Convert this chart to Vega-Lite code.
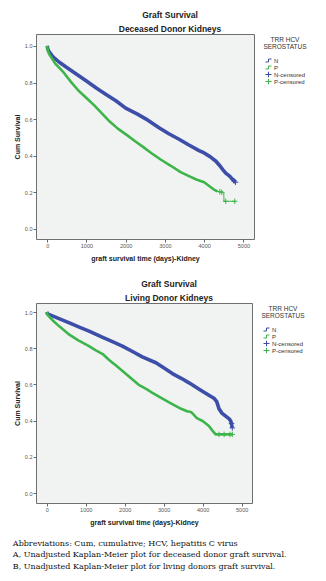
{
  "$schema": "https://vega.github.io/schema/vega-lite/v6.json",
  "padding": {"left": 12, "top": 10, "right": 0, "bottom": 0},
  "background": "white",
  "config": {
    "font": "Liberation Sans",
    "view": {"fill": "#f1f3f3", "stroke": "#6f6f6f", "strokeWidth": 1},
    "axis": {"grid": false, "domain": false, "tickColor": "#666", "tickSize": 3, "labelFontSize": 5.5, "labelColor": "#555", "titleFontSize": 7, "titleFontWeight": "bold", "titleColor": "#222", "labelPadding": 1, "labelOverlap": false, "labelBound": false},
    "concat": {"spacing": 17}
  },
  "datasets": {
    "dec": [
      {"g":"N","t":0,"v":1.0},{"g":"N","t":20,"v":0.98},{"g":"N","t":60,"v":0.965},{"g":"N","t":150,"v":0.94},{"g":"N","t":300,"v":0.912},{"g":"N","t":500,"v":0.882},{"g":"N","t":750,"v":0.845},{"g":"N","t":1000,"v":0.808},{"g":"N","t":1250,"v":0.77},{"g":"N","t":1500,"v":0.735},{"g":"N","t":1750,"v":0.7},{"g":"N","t":2000,"v":0.66},{"g":"N","t":2300,"v":0.627},{"g":"N","t":2520,"v":0.6},{"g":"N","t":2850,"v":0.553},{"g":"N","t":3100,"v":0.52},{"g":"N","t":3360,"v":0.49},{"g":"N","t":3600,"v":0.46},{"g":"N","t":3870,"v":0.428},{"g":"N","t":4000,"v":0.415},{"g":"N","t":4150,"v":0.395},{"g":"N","t":4300,"v":0.37},{"g":"N","t":4400,"v":0.345},{"g":"N","t":4470,"v":0.325},{"g":"N","t":4550,"v":0.305},{"g":"N","t":4640,"v":0.29},{"g":"N","t":4720,"v":0.272},{"g":"N","t":4800,"v":0.255},
      {"g":"P","t":0,"v":1.0},{"g":"P","t":15,"v":0.975},{"g":"P","t":50,"v":0.955},{"g":"P","t":200,"v":0.905},{"g":"P","t":400,"v":0.86},{"g":"P","t":600,"v":0.805},{"g":"P","t":800,"v":0.755},{"g":"P","t":1000,"v":0.715},{"g":"P","t":1200,"v":0.675},{"g":"P","t":1400,"v":0.63},{"g":"P","t":1600,"v":0.585},{"g":"P","t":1800,"v":0.548},{"g":"P","t":2050,"v":0.51},{"g":"P","t":2250,"v":0.478},{"g":"P","t":2450,"v":0.447},{"g":"P","t":2650,"v":0.415},{"g":"P","t":2900,"v":0.378},{"g":"P","t":3150,"v":0.345},{"g":"P","t":3400,"v":0.31},{"g":"P","t":3600,"v":0.29},{"g":"P","t":3800,"v":0.27},{"g":"P","t":4000,"v":0.255},{"g":"P","t":4170,"v":0.228},{"g":"P","t":4250,"v":0.215},{"g":"P","t":4340,"v":0.205},{"g":"P","t":4500,"v":0.2},{"g":"P","t":4505,"v":0.151},{"g":"P","t":4800,"v":0.151}
    ],
    "decC": [
      {"g":"N-censored","t":4760,"v":0.262},{"g":"N-censored","t":4800,"v":0.255},
      {"g":"P-censored","t":4400,"v":0.203},{"g":"P-censored","t":4450,"v":0.2},{"g":"P-censored","t":4550,"v":0.151},{"g":"P-censored","t":4780,"v":0.151}
    ],
    "liv": [
      {"g":"N","t":0,"v":1.0},{"g":"N","t":20,"v":0.99},{"g":"N","t":300,"v":0.965},{"g":"N","t":580,"v":0.94},{"g":"N","t":850,"v":0.915},{"g":"N","t":1085,"v":0.895},{"g":"N","t":1436,"v":0.86},{"g":"N","t":1700,"v":0.835},{"g":"N","t":1940,"v":0.812},{"g":"N","t":2200,"v":0.782},{"g":"N","t":2450,"v":0.752},{"g":"N","t":2800,"v":0.72},{"g":"N","t":3000,"v":0.692},{"g":"N","t":3223,"v":0.66},{"g":"N","t":3450,"v":0.634},{"g":"N","t":3650,"v":0.609},{"g":"N","t":3910,"v":0.573},{"g":"N","t":4160,"v":0.54},{"g":"N","t":4300,"v":0.522},{"g":"N","t":4360,"v":0.505},{"g":"N","t":4420,"v":0.465},{"g":"N","t":4500,"v":0.44},{"g":"N","t":4590,"v":0.425},{"g":"N","t":4680,"v":0.41},{"g":"N","t":4720,"v":0.398},{"g":"N","t":4740,"v":0.38},{"g":"N","t":4760,"v":0.36},
      {"g":"P","t":0,"v":1.0},{"g":"P","t":20,"v":0.985},{"g":"P","t":150,"v":0.955},{"g":"P","t":300,"v":0.925},{"g":"P","t":580,"v":0.875},{"g":"P","t":800,"v":0.845},{"g":"P","t":1085,"v":0.812},{"g":"P","t":1250,"v":0.79},{"g":"P","t":1436,"v":0.768},{"g":"P","t":1600,"v":0.735},{"g":"P","t":1800,"v":0.7},{"g":"P","t":2050,"v":0.655},{"g":"P","t":2360,"v":0.598},{"g":"P","t":2550,"v":0.575},{"g":"P","t":2700,"v":0.555},{"g":"P","t":2900,"v":0.53},{"g":"P","t":3150,"v":0.5},{"g":"P","t":3400,"v":0.47},{"g":"P","t":3600,"v":0.452},{"g":"P","t":3700,"v":0.448},{"g":"P","t":3780,"v":0.43},{"g":"P","t":3850,"v":0.414},{"g":"P","t":4000,"v":0.398},{"g":"P","t":4160,"v":0.37},{"g":"P","t":4250,"v":0.345},{"g":"P","t":4333,"v":0.324},{"g":"P","t":4760,"v":0.324}
    ],
    "livC": [
      {"g":"N-censored","t":4740,"v":0.385},{"g":"N-censored","t":4760,"v":0.36},
      {"g":"P-censored","t":4420,"v":0.324},{"g":"P-censored","t":4550,"v":0.324},{"g":"P-censored","t":4700,"v":0.324},{"g":"P-censored","t":4760,"v":0.324}
    ]
  },
  "vconcat": [
    {
      "width": 218, "height": 205,
      "title": {"text": ["Graft Survival", "Deceased Donor Kidneys"], "fontSize": 8.5, "fontWeight": "bold", "lineHeight": 14, "anchor": "middle", "frame": "group", "dx": 25, "offset": 1, "color": "#222"},
      "encoding": {
        "x": {"field": "t", "type": "quantitative", "scale": {"domain": [-285, 5270], "nice": false, "zero": false}, "axis": {"values": [0,1000,2000,3000,4000,5000], "format": "d", "title": "graft survival time (days)-Kidney", "titlePadding": 6, "labelOverlap": false}},
        "y": {"field": "v", "type": "quantitative", "scale": {"domain": [-0.055, 1.065], "nice": false, "zero": false}, "axis": {"values": [0,0.2,0.4,0.6,0.8,1.0], "format": ".1f", "title": "Cum Survival", "titlePadding": 4, "labelOverlap": false}},
        "color": {"field": "g", "type": "nominal", "scale": {"domain": ["N","P","N-censored","P-censored"], "range": ["#3d4ea8","#3db54a","#3d4ea8","#3db54a"]},
          "legend": {"title": ["TRR HCV","SEROSTATUS"], "titleAnchor": "middle", "titleAlign": "center", "titleFontSize": 6.5, "titleFontWeight": "normal", "titleColor": "#333", "titleLineHeight": 7, "titlePadding": 7, "labelFontSize": 6, "labelColor": "#333", "symbolSize": 36, "symbolStrokeWidth": 1, "rowPadding": 1, "clipHeight": 6, "offset": 6, "padding": 3, "labelOffset": 2,
            "encode": {"symbols": {"update": {"shape": {"signal": "indexof(['N','P'], datum.value) >= 0 ? 'M-1,0.5H0V-0.5H1' : 'M-1,0H1M0,-1V1'"}, "fill": {"value": "transparent"}}}}}}
      },
      "layer": [
        {"data": {"name": "dec"}, "mark": {"type": "line", "strokeWidth": 1}},
        {"data": {"name": "dec"}, "transform": [{"filter": "datum.g == 'N' || datum.t < 4500"}], "mark": {"type": "line", "strokeJoin": "round"},
         "encoding": {
           "strokeWidth": {"field": "g", "type": "nominal", "scale": {"domain": ["N","P"], "range": [3.6,2.6]}, "legend": null}
         }},
        {"data": {"name": "decC"}, "mark": {"type": "point", "shape": "M-1,0H1M0,-1V1", "filled": false, "size": 30, "strokeWidth": 1, "opacity": 1}}
      ]
    },
    {
      "width": 216, "height": 200,
      "title": {"text": ["Graft Survival", "Living Donor Kidneys"], "fontSize": 8.5, "fontWeight": "bold", "lineHeight": 14, "anchor": "middle", "frame": "group", "dx": 25, "offset": 1, "color": "#222"},
      "encoding": {
        "x": {"field": "t", "type": "quantitative", "scale": {"domain": [-275, 5265], "nice": false, "zero": false}, "axis": {"values": [0,1000,2000,3000,4000,5000], "format": "d", "title": "graft survival time (days)-Kidney", "titlePadding": 6, "labelOverlap": false}},
        "y": {"field": "v", "type": "quantitative", "scale": {"domain": [-0.055, 1.05], "nice": false, "zero": false}, "axis": {"values": [0,0.2,0.4,0.6,0.8,1.0], "format": ".1f", "title": "Cum Survival", "titlePadding": 4, "labelOverlap": false}},
        "color": {"field": "g", "type": "nominal", "scale": {"domain": ["N","P","N-censored","P-censored"], "range": ["#3d4ea8","#3db54a","#3d4ea8","#3db54a"]},
          "legend": {"title": ["TRR HCV","SEROSTATUS"], "titleAnchor": "middle", "titleAlign": "center", "titleFontSize": 6.5, "titleFontWeight": "normal", "titleColor": "#333", "titleLineHeight": 7, "titlePadding": 7, "labelFontSize": 6, "labelColor": "#333", "symbolSize": 36, "symbolStrokeWidth": 1, "rowPadding": 1, "clipHeight": 6, "offset": 6, "padding": 3, "labelOffset": 2,
            "encode": {"symbols": {"update": {"shape": {"signal": "indexof(['N','P'], datum.value) >= 0 ? 'M-1,0.5H0V-0.5H1' : 'M-1,0H1M0,-1V1'"}, "fill": {"value": "transparent"}}}}}}
      },
      "layer": [
        {"data": {"name": "liv"}, "mark": {"type": "line", "strokeWidth": 1}},
        {"data": {"name": "liv"}, "mark": {"type": "line", "strokeJoin": "round"},
         "encoding": {
           "strokeWidth": {"field": "g", "type": "nominal", "scale": {"domain": ["N","P"], "range": [3.6,2.6]}, "legend": null}
         }},
        {"data": {"name": "livC"}, "mark": {"type": "point", "shape": "M-1,0H1M0,-1V1", "filled": false, "size": 30, "strokeWidth": 1, "opacity": 1}}
      ]
    }
  ],
  "resolve": {"scale": {"x": "independent", "y": "independent", "color": "independent", "strokeWidth": "independent"}, "legend": {"color": "independent"}},
  "title": {"text": "Abbreviations: Cum, cumulative; HCV, hepatitis C virus", "subtitle": ["A, Unadjusted Kaplan-Meier plot for deceased donor graft survival.", "B, Unadjusted Kaplan-Meier plot for living donors graft survival."], "orient": "bottom", "anchor": "start", "frame": "bounds", "font": "DejaVu Serif", "fontSize": 8, "fontWeight": "normal", "color": "#111", "subtitleFont": "DejaVu Serif", "subtitleFontSize": 8, "subtitleColor": "#111", "subtitleLineHeight": 12, "subtitlePadding": 3, "offset": 14}
}
